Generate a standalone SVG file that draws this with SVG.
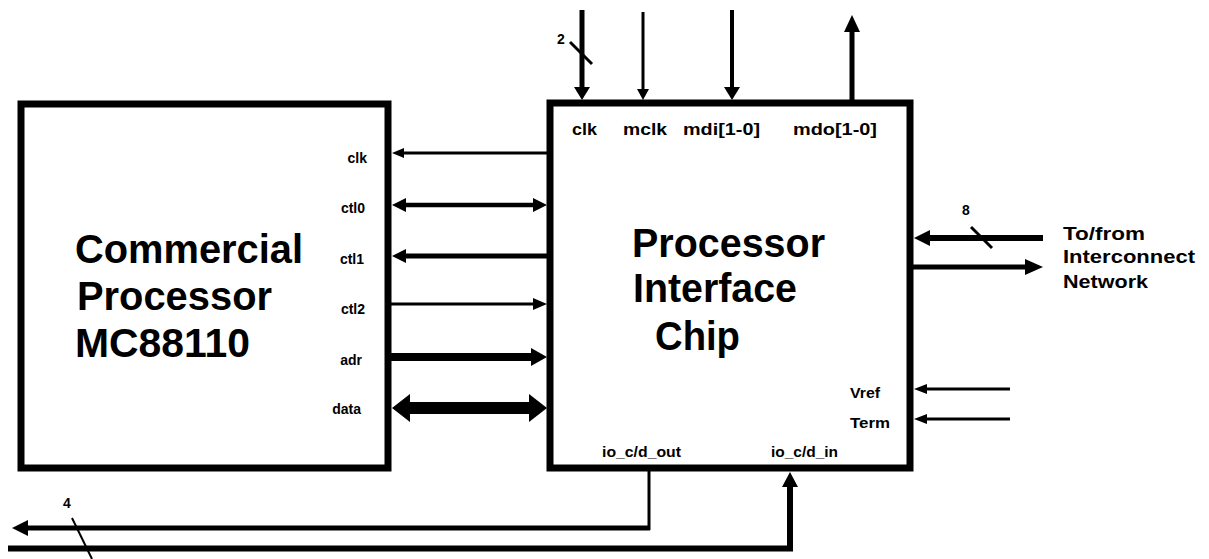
<svg xmlns="http://www.w3.org/2000/svg" width="1209" height="559" viewBox="0 0 1209 559">
<style>
text{font-family:"Liberation Sans",Arial,Helvetica,sans-serif;font-weight:bold;fill:#000}
.big{font-size:40px}
.pin{font-size:14px}
.top{font-size:17px}
.net{font-size:19px}
.box{fill:#fff;stroke:#000;stroke-width:7}
.ln{stroke:#000;fill:none;stroke-linecap:butt}
.hd{fill:#000;stroke:none}
</style>
<rect width="1209" height="559" fill="#fff"/>
<g id="processor">
<rect class="box" x="21" y="104" width="367" height="364"/>
<text class="big" x="75" y="263" textLength="228" lengthAdjust="spacingAndGlyphs">Commercial</text>
<text class="big" x="77" y="310" textLength="195" lengthAdjust="spacingAndGlyphs">Processor</text>
<text class="big" x="75" y="357" textLength="175" lengthAdjust="spacingAndGlyphs">MC88110</text>
<g class="pin" text-anchor="end">
<text class="pin" x="367" y="163">clk</text>
<text class="pin" x="365" y="213">ctl0</text>
<text class="pin" x="364" y="264">ctl1</text>
<text class="pin" x="365" y="314">ctl2</text>
<text class="pin" x="362" y="365">adr</text>
<text class="pin" x="361" y="414">data</text>
</g>
</g>
<g id="interface-chip">
<rect class="box" x="550" y="103" width="360" height="365"/>
<text class="big" x="632" y="257" textLength="193" lengthAdjust="spacingAndGlyphs">Processor</text>
<text class="big" x="633" y="302" textLength="164" lengthAdjust="spacingAndGlyphs">Interface</text>
<text class="big" x="655" y="350" textLength="85" lengthAdjust="spacingAndGlyphs">Chip</text>
<text class="top" x="572" y="135" textLength="25" lengthAdjust="spacingAndGlyphs">clk</text>
<text class="top" x="623" y="135" textLength="44" lengthAdjust="spacingAndGlyphs">mclk</text>
<text class="top" x="683" y="135" textLength="77" lengthAdjust="spacingAndGlyphs">mdi[1-0]</text>
<text class="top" x="793" y="135" textLength="84" lengthAdjust="spacingAndGlyphs">mdo[1-0]</text>
<text class="pin" x="850" y="398" font-size="15" textLength="30" lengthAdjust="spacingAndGlyphs">Vref</text>
<text class="pin" x="850" y="428" font-size="15" textLength="40" lengthAdjust="spacingAndGlyphs">Term</text>
<text class="pin" x="602" y="457" textLength="79" lengthAdjust="spacingAndGlyphs">io_c/d_out</text>
<text class="pin" x="771" y="457" textLength="67" lengthAdjust="spacingAndGlyphs">io_c/d_in</text>
</g>
<g id="network-label">
<text class="net" x="1063" y="240" textLength="82" lengthAdjust="spacingAndGlyphs">To/from</text>
<text class="net" x="1063" y="263" textLength="132" lengthAdjust="spacingAndGlyphs">Interconnect</text>
<text class="net" x="1063" y="288" textLength="85" lengthAdjust="spacingAndGlyphs">Network</text>
</g>
<g id="connectors">
<!-- processor <-> chip -->
<line class="ln" x1="550" y1="153" x2="402" y2="153" stroke-width="3"/>
<polygon class="hd" points="392,153 404,148 404,158"/>
<line class="ln" x1="404" y1="205" x2="535" y2="205" stroke-width="4.5"/>
<polygon class="hd" points="392,205 406,198 406,212"/>
<polygon class="hd" points="547,205 533,198 533,212"/>
<line class="ln" x1="404" y1="256" x2="550" y2="256" stroke-width="5"/>
<polygon class="hd" points="392,256 406,249 406,263"/>
<line class="ln" x1="388" y1="304" x2="535" y2="304" stroke-width="3"/>
<polygon class="hd" points="547,304 533,298 533,310"/>
<line class="ln" x1="388" y1="357" x2="533" y2="357" stroke-width="8"/>
<polygon class="hd" points="547,357 531,348 531,366"/>
<line class="ln" x1="408" y1="408" x2="531" y2="408" stroke-width="12"/>
<polygon class="hd" points="392,408 410,394 410,422"/>
<polygon class="hd" points="547,408 529,394 529,422"/>
<!-- top pins -->
<line class="ln" x1="582" y1="10" x2="582" y2="89" stroke-width="5"/>
<polygon class="hd" points="582,100 574,87 590,87"/>
<line class="ln" x1="570" y1="42" x2="592" y2="64" stroke-width="3"/>
<text class="pin" x="557" y="44">2</text>
<line class="ln" x1="643" y1="12" x2="643" y2="90" stroke-width="3"/>
<polygon class="hd" points="643,100 637,89 649,89"/>
<line class="ln" x1="732" y1="10" x2="732" y2="89" stroke-width="4"/>
<polygon class="hd" points="732,100 724,87 740,87"/>
<line class="ln" x1="852" y1="30" x2="852" y2="100" stroke-width="5"/>
<polygon class="hd" points="852,15 844,32 860,32"/>
<!-- network -->
<line class="ln" x1="1043" y1="238" x2="928" y2="238" stroke-width="6"/>
<polygon class="hd" points="914,238 930,230 930,246"/>
<line class="ln" x1="971" y1="227" x2="992" y2="248" stroke-width="3"/>
<text class="pin" x="962" y="215">8</text>
<line class="ln" x1="910" y1="267" x2="1027" y2="267" stroke-width="5"/>
<polygon class="hd" points="1043,267 1025,259 1025,275"/>
<line class="ln" x1="1010" y1="389" x2="925" y2="389" stroke-width="3"/>
<polygon class="hd" points="914,389 927,384 927,394"/>
<line class="ln" x1="1010" y1="419" x2="925" y2="419" stroke-width="3"/>
<polygon class="hd" points="914,419 927,414 927,424"/>
<!-- bottom loop -->
<line class="ln" x1="649" y1="470" x2="649" y2="530" stroke-width="3"/>
<line class="ln" x1="650" y1="528" x2="26" y2="528" stroke-width="5"/>
<polygon class="hd" points="12,528 28,520 28,536"/>
<polyline class="ln" points="8,548.5 790,548.5 790,485" stroke-width="6"/>
<polygon class="hd" points="790,472 782,487 798,487"/>
<line class="ln" x1="72" y1="518" x2="92" y2="559" stroke-width="2"/>
<text class="pin" x="63" y="508">4</text>
</g>
</svg>
